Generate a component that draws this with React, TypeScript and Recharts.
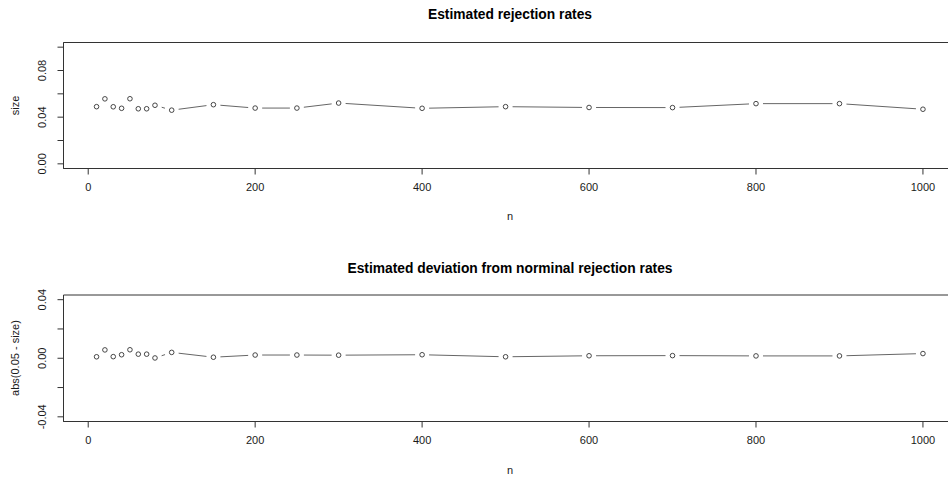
import React from "react";
import { ComposedChart, Scatter, XAxis, YAxis, ReferenceArea } from "recharts";

const nValues = [10, 20, 30, 40, 50, 60, 70, 80, 100, 150, 200, 250, 300, 400, 500, 600, 700, 800, 900, 1000];
const sizeValues = [0.0490, 0.0557, 0.0489, 0.0476, 0.0558, 0.0472, 0.0472, 0.0502, 0.0460, 0.0507, 0.0478, 0.0478, 0.0521, 0.0476, 0.0490, 0.0483, 0.0482, 0.0516, 0.0516, 0.0468];
const deviationValues = [0.0010, 0.0057, 0.0011, 0.0024, 0.0058, 0.0028, 0.0028, 0.0002, 0.0040, 0.0007, 0.0022, 0.0022, 0.0021, 0.0024, 0.0010, 0.0017, 0.0018, 0.0016, 0.0016, 0.0032];

const xTicks = [0, 200, 400, 600, 800, 1000];
const sizeTicks = [0, 0.02, 0.04, 0.06, 0.08, 0.1];
const devTicks = [-0.04, -0.02, 0, 0.02, 0.04];

const topTitle = "Estimated rejection rates";
const bottomTitle = "Estimated deviation from norminal rejection rates";
const xLabel = "n";
const topYLabel = "size";
const bottomYLabel = "abs(0.05 - size)";

const X_DOMAIN: [number, number] = [-29.6, 1039.6];
const SIZE_DOMAIN: [number, number] = [-0.004, 0.104];
const DEV_DOMAIN: [number, number] = [-0.0432, 0.0432];

const sizeData = nValues.map((n, i) => ({ n, v: sizeValues[i] }));
const devData = nValues.map((n, i) => ({ n, v: deviationValues[i] }));

const FONT = "'Liberation Sans', Arial, Helvetica, sans-serif";
const LINE = "#333";
const TEXT = "#1a1a1a";
const GAP = 7;

const YTick = (props: any) => {
  const { x, y, payload } = props;
  const v = payload.value as number;
  const show = Math.abs(Math.round(v * 100)) % 4 === 0;
  if (!show) return <g />;
  return (
    <text
      x={x}
      y={y}
      transform={`rotate(-90 ${x} ${y})`}
      textAnchor="middle"
      fontSize={11}
      fontFamily={FONT}
      fill={TEXT}
    >
      {v.toFixed(2)}
    </text>
  );
};

const OpenDot = (props: any) => {
  const { cx, cy } = props;
  if (cx == null || cy == null) return <g />;
  return <circle cx={cx} cy={cy} r={2.3} fill="#fff" stroke={LINE} strokeWidth={0.9} />;
};

// R type="b": segments between points, shortened near each point
const GappedLine = (props: any) => {
  const pts: { x: number; y: number }[] = (props.points || []).map((p: any) => ({
    x: p.x != null ? p.x : p.cx,
    y: p.y != null ? p.y : p.cy,
  }));
  const segs: React.ReactNode[] = [];
  for (let i = 0; i < pts.length - 1; i++) {
    const a = pts[i];
    const b = pts[i + 1];
    const dx = b.x - a.x;
    const dy = b.y - a.y;
    const d = Math.sqrt(dx * dx + dy * dy);
    if (d <= 2 * GAP) continue;
    const ux = dx / d;
    const uy = dy / d;
    segs.push(
      <line
        key={i}
        x1={a.x + ux * GAP}
        y1={a.y + uy * GAP}
        x2={b.x - ux * GAP}
        y2={b.y - uy * GAP}
        stroke="#666"
        strokeWidth={1}
      />
    );
  }
  return <g className="gapped-line">{segs}</g>;
};

type PanelProps = {
  data: { n: number; v: number }[];
  yDomain: [number, number];
  yTicks: number[];
  marginTop: number;
  marginBottom: number;
};

const Panel = ({ data, yDomain, yTicks, marginTop, marginBottom }: PanelProps) => (
  <ComposedChart
    width={957}
    height={239}
    data={data}
    margin={{ top: marginTop, right: 1, bottom: marginBottom, left: 23.5 }}
  >
    <XAxis
      dataKey="n"
      type="number"
      domain={X_DOMAIN}
      ticks={xTicks}
      allowDataOverflow
      height={30}
      tickSize={6}
      tickMargin={9}
      stroke={LINE}
      tick={{ fontSize: 11, fontFamily: FONT, fill: TEXT }}
      interval={0}
    />
    <YAxis
      type="number"
      dataKey="v"
      domain={yDomain}
      ticks={yTicks}
      allowDataOverflow
      width={40}
      tickSize={6}
      tickMargin={11.5}
      stroke={LINE}
      tick={<YTick />}
      interval={0}
    />
    <ReferenceArea
      x1={X_DOMAIN[0]}
      x2={X_DOMAIN[1]}
      y1={yDomain[0]}
      y2={yDomain[1]}
      fill="none"
      stroke={LINE}
      strokeWidth={1}
      ifOverflow="visible"
    />
    <Scatter
      data={data}
      dataKey="v"
      line={GappedLine}
      lineType="joint"
      shape={OpenDot}
      isAnimationActive={false}
      legendType="none"
    />
  </ComposedChart>
);

export default function App() {
  return (
    <div
      style={{
        position: "absolute",
        left: 0,
        top: 0,
        width: 948,
        height: 478,
        overflow: "hidden",
        background: "#fff",
      }}
    >
      <div style={{ position: "absolute", left: 0, top: 0 }}>
        <Panel data={sizeData} yDomain={SIZE_DOMAIN} yTicks={sizeTicks} marginTop={42.5} marginBottom={40.5} />
      </div>
      <div style={{ position: "absolute", left: 0, top: 239 }}>
        <Panel data={devData} yDomain={DEV_DOMAIN} yTicks={devTicks} marginTop={56} marginBottom={26.5} />
      </div>
      <svg
        width={948}
        height={478}
        style={{ position: "absolute", left: 0, top: 0, pointerEvents: "none" }}
      >
        <text x={510} y={19} textAnchor="middle" fontSize={13.8} fontWeight="bold" fontFamily={FONT} fill="#000">
          {topTitle}
        </text>
        <text x={510} y={273} textAnchor="middle" fontSize={13.8} fontWeight="bold" fontFamily={FONT} fill="#000">
          {bottomTitle}
        </text>
        <text x={510} y={219.5} textAnchor="middle" fontSize={11} fontFamily={FONT} fill={TEXT}>
          {xLabel}
        </text>
        <text x={510} y={473.5} textAnchor="middle" fontSize={11} fontFamily={FONT} fill={TEXT}>
          {xLabel}
        </text>
        <text x={18.5} y={105.5} transform="rotate(-90 18.5 105.5)" textAnchor="middle" fontSize={11} fontFamily={FONT} fill={TEXT}>
          {topYLabel}
        </text>
        <text x={18.5} y={358} transform="rotate(-90 18.5 358)" textAnchor="middle" fontSize={11} fontFamily={FONT} fill={TEXT}>
          {bottomYLabel}
        </text>
      </svg>
    </div>
  );
}
